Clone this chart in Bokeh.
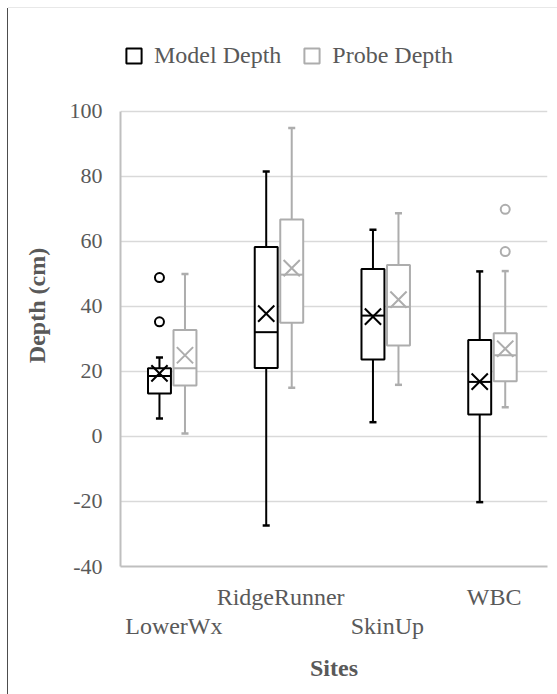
from bokeh.plotting import figure
from bokeh.models import (ColumnDataSource, Range1d, LinearAxis, FixedTicker, Legend, LegendItem,
                          CustomJSTickFormatter, PrintfTickFormatter)
from bokeh.transform import dodge
from bokeh.embed import file_html
from bokeh.resources import INLINE

sites = ["LowerWx", "RidgeRunner", "SkinUp", "WBC"]
series = ["Model Depth", "Probe Depth"]

model_lo = [5.5, -27.4, 4.4, -20.2]
model_q1 = [13.2, 21.1, 23.7, 6.8]
model_med = [18.6, 32.1, 37.2, 16.8]
model_q3 = [21.0, 58.3, 51.5, 29.7]
model_hi = [24.3, 81.5, 63.6, 50.8]
model_mean = [19.4, 37.8, 36.9, 16.9]
model_out_site = ["LowerWx", "LowerWx"]
model_out_val = [48.9, 35.3]

probe_lo = [0.9, 15.0, 15.9, 9.0]
probe_q1 = [15.7, 35.0, 28.0, 17.0]
probe_med = [21.0, 49.8, 39.9, 25.0]
probe_q3 = [32.8, 66.8, 52.8, 31.8]
probe_hi = [50.0, 94.9, 68.7, 50.9]
probe_mean = [25.0, 51.8, 42.1, 27.0]
probe_out_site = ["WBC", "WBC"]
probe_out_val = [69.9, 56.9]

y_ticks = [-40, -20, 0, 20, 40, 60, 80, 100]

FONT = "Liberation Serif"
TXT = "#595959"

site_pos = [sites.index(s) + 0.5 for s in sites]

# frame extends above the axis top so the legend can sit inside it
Y_TOP = 122.46

p = figure(width=549, height=686, x_range=Range1d(0, len(sites)), y_range=Range1d(-40, Y_TOP),
           output_backend="svg", toolbar_location=None,
           min_border_left=112, min_border_top=30, min_border_right=10, min_border_bottom=128,
           margin=(8, 0, 0, 8),
           styles={"box-shadow": "-1px 0 0 0 #4d4d4d, 0 -1px 0 0 #e8e8e8"})
p.outline_line_color = None
p.xgrid.grid_line_color = None
p.ygrid.grid_line_color = "#d9d9d9"
p.ygrid.grid_line_width = 1.5
p.xaxis.visible = False

# y axis
p.yaxis.ticker = FixedTicker(ticks=y_ticks)
p.yaxis.bounds = (y_ticks[0], y_ticks[-1])
p.yaxis.formatter = PrintfTickFormatter(format="%d")
p.yaxis.axis_line_color = "#bfbfbf"
p.yaxis.axis_line_width = 2
p.yaxis.major_tick_line_color = None
p.yaxis.minor_tick_line_color = None
p.yaxis.major_tick_out = 0
p.yaxis.major_label_standoff = 18
p.yaxis.major_label_text_font = FONT
p.yaxis.major_label_text_font_size = "22px"
p.yaxis.major_label_text_color = TXT
p.yaxis.axis_label = "Depth  (cm)"
p.yaxis.axis_label_text_font = FONT
p.yaxis.axis_label_text_font_style = "bold"
p.yaxis.axis_label_text_font_size = "24px"
p.yaxis.axis_label_text_color = TXT
p.yaxis.axis_label_standoff = 17

# x axes (staggered labels)
fmt = CustomJSTickFormatter(args=dict(labels=sites), code="return labels[Math.floor(tick)] || '';")
xa = LinearAxis(ticker=FixedTicker(ticks=site_pos[1::2]), formatter=fmt)
xa.axis_line_color = "#bfbfbf"
xa.axis_line_width = 2
xa.major_tick_line_color = None
xa.minor_tick_line_color = None
xa.major_tick_out = 0
xa.major_label_standoff = 17
xa.major_label_text_font = FONT
xa.major_label_text_font_size = "24px"
xa.major_label_text_color = TXT
p.add_layout(xa, "below")

xb = LinearAxis(ticker=FixedTicker(ticks=site_pos[0::2]), formatter=fmt)
xb.axis_line_color = None
xb.major_tick_line_color = None
xb.minor_tick_line_color = None
xb.major_tick_out = 0
xb.major_label_standoff = 0
xb.major_label_text_font = FONT
xb.major_label_text_font_size = "24px"
xb.major_label_text_color = TXT
xb.axis_label = "Sites"
xb.axis_label_text_font = FONT
xb.axis_label_text_font_style = "bold"
xb.axis_label_text_font_size = "24px"
xb.axis_label_text_color = TXT
xb.axis_label_standoff = 13
p.add_layout(xb, "below")

BW = 0.215
CAP = 0.033
renderers = []
for name, off, col, lo, q1, med, q3, hi, mean, osite, oval in [
    (series[0], -0.135, "#000000", model_lo, model_q1, model_med, model_q3, model_hi, model_mean,
     model_out_site, model_out_val),
    (series[1], 0.104, "#adadad", probe_lo, probe_q1, probe_med, probe_q3, probe_hi, probe_mean,
     probe_out_site, probe_out_val),
]:
    src = ColumnDataSource(dict(x=site_pos, lo=lo, q1=q1, med=med, q3=q3, hi=hi, mean=mean))
    # whiskers
    p.segment(x0=dodge("x", off), x1=dodge("x", off), y0="q3", y1="hi",
              source=src, line_color=col, line_width=2)
    p.segment(x0=dodge("x", off), x1=dodge("x", off), y0="lo", y1="q1",
              source=src, line_color=col, line_width=2)
    # caps
    p.segment(x0=dodge("x", off - CAP), x1=dodge("x", off + CAP),
              y0="hi", y1="hi", source=src, line_color=col, line_width=2.5)
    p.segment(x0=dodge("x", off - CAP), x1=dodge("x", off + CAP),
              y0="lo", y1="lo", source=src, line_color=col, line_width=2.5)
    # box
    r = p.vbar(x=dodge("x", off), top="q3", bottom="q1", width=BW, source=src,
               fill_color="white", line_color=col, line_width=2)
    renderers.append((name, r))
    # median
    p.segment(x0=dodge("x", off - BW / 2), x1=dodge("x", off + BW / 2),
              y0="med", y1="med", source=src, line_color=col, line_width=2)
    # mean
    p.scatter(x=dodge("x", off), y="mean", source=src, marker="x", size=23,
              line_color=col, line_width=2)
    # outliers
    osrc = ColumnDataSource(dict(x=[sites.index(s) + 0.5 for s in osite], val=oval))
    p.scatter(x=dodge("x", off), y="val", source=osrc, marker="circle", size=9,
              fill_color="white", line_color=col, line_width=2)

legend = Legend(items=[LegendItem(label=n, renderers=[r]) for n, r in renderers],
                orientation="horizontal", location=(4, 497),
                glyph_width=19, glyph_height=19, label_standoff=11, spacing=21,
                padding=0, margin=0, border_line_color=None, background_fill_alpha=0,
                label_text_font=FONT, label_text_font_size="24px", label_text_color=TXT)
p.add_layout(legend, "center")

open("out.html", "w").write(file_html(p, INLINE))
